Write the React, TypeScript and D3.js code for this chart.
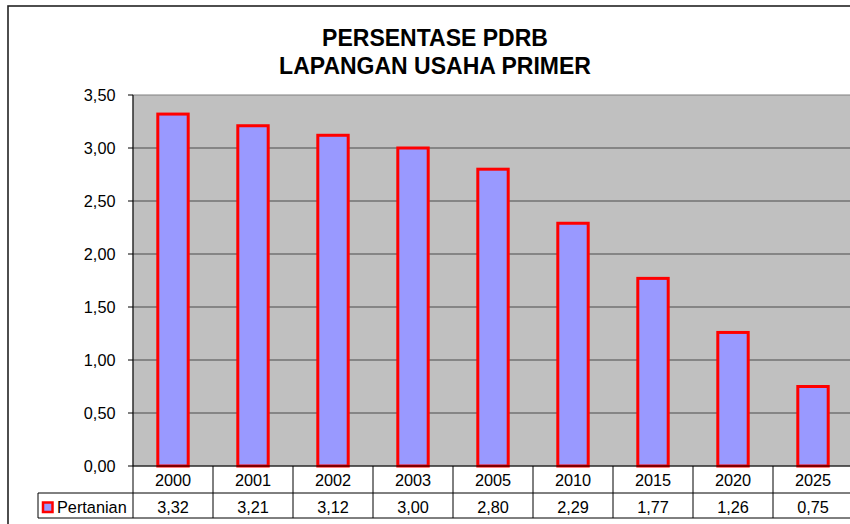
import React from "react";
import * as d3 from "d3";

const categories = ["2000", "2001", "2002", "2003", "2005", "2010", "2015", "2020", "2025"];
const pertanian = [3.32, 3.21, 3.12, 3.0, 2.8, 2.29, 1.77, 1.26, 0.75];
const yTicks = [0, 0.5, 1, 1.5, 2, 2.5, 3, 3.5];
const seriesName = "Pertanian";
const titleLines = ["PERSENTASE PDRB", "LAPANGAN USAHA PRIMER"];

const W = 850;
const H = 524;
const plotL = 133;
const plotR = 853;
const plotT = 95;
const plotB = 466;
const row1B = 493;
const row2B = 518;
const tableL = 38;
const font = "Arial, 'Liberation Sans', sans-serif";
const fs = 16.3;

const fmt = (v: number) => v.toFixed(2).replace(".", ",");

export default function App() {
  const x = d3.scaleBand<string>().domain(categories).range([plotL, plotR]).padding(0);
  const y = d3.scaleLinear().domain([0, 3.5]).range([plotB, plotT]);
  const bw = x.bandwidth();
  const barW = bw * 0.38;

  return (
    <svg
      width={W}
      height={H}
      style={{ position: "absolute", left: 0, top: 0, display: "block" }}
      fontFamily={font}
    >
      <rect x={0} y={0} width={W} height={H} fill="#ffffff" />
      {/* outer chart frame */}
      <rect x={8} y={6} width={W + 20} height={H + 20} fill="none" stroke="#222" strokeWidth={1.6} />

      {/* title */}
      {titleLines.map((t, i) => (
        <text
          key={t}
          x={435}
          y={46 + i * 27.5}
          textAnchor="middle"
          fontSize={23}
          fontWeight="bold"
          fill="#000"
        >
          {t}
        </text>
      ))}

      {/* plot area */}
      <rect x={plotL} y={plotT} width={plotR - plotL} height={plotB - plotT} fill="#C0C0C0" stroke="#808080" strokeWidth={1} />

      {/* gridlines */}
      {yTicks.filter((t) => t > 0 && t < 3.5).map((t) => (
        <line key={t} x1={plotL} x2={plotR} y1={y(t)} y2={y(t)} stroke="#4a4a4a" strokeWidth={1} />
      ))}

      {/* bars */}
      {categories.map((c, i) => (
        <rect
          key={c}
          x={(x(c) as number) + (bw - barW) / 2}
          y={y(pertanian[i])}
          width={barW}
          height={plotB - y(pertanian[i])}
          fill="#9999FF"
          stroke="#FF0000"
          strokeWidth={3}
        />
      ))}

      {/* y axis */}
      <line x1={plotL} x2={plotL} y1={plotT} y2={plotB} stroke="#000" strokeWidth={1} />
      {yTicks.map((t) => (
        <g key={t}>
          <line x1={plotL - 5} x2={plotL} y1={y(t)} y2={y(t)} stroke="#000" strokeWidth={1} />
          <text x={115.5} y={y(t) + 6} textAnchor="end" fontSize={fs} fill="#000">
            {fmt(t)}
          </text>
        </g>
      ))}

      {/* data table */}
      <line x1={plotL} x2={plotR} y1={plotB} y2={plotB} stroke="#000" strokeWidth={1.2} />
      <line x1={tableL} x2={plotR} y1={row1B} y2={row1B} stroke="#000" strokeWidth={1} />
      <line x1={tableL} x2={plotR} y1={row2B} y2={row2B} stroke="#000" strokeWidth={1} />
      <line x1={tableL} x2={tableL} y1={row1B} y2={row2B} stroke="#000" strokeWidth={1} />
      {categories.map((c) => (
        <line key={"v" + c} x1={x(c) as number} x2={x(c) as number} y1={plotB} y2={row2B} stroke="#000" strokeWidth={1} />
      ))}
      {categories.map((c, i) => (
        <g key={"t" + c}>
          <text x={(x(c) as number) + bw / 2} y={485.5} textAnchor="middle" fontSize={fs} fill="#000">
            {c}
          </text>
          <text x={(x(c) as number) + bw / 2} y={512.5} textAnchor="middle" fontSize={fs} fill="#000">
            {fmt(pertanian[i])}
          </text>
        </g>
      ))}
      {/* legend key */}
      <rect x={43} y={502.5} width={9.5} height={9.5} fill="#9999FF" stroke="#FF0000" strokeWidth={2.5} />
      <text x={57} y={512.5} fontSize={fs} fill="#000">
        {seriesName}
      </text>
    </svg>
  );
}
